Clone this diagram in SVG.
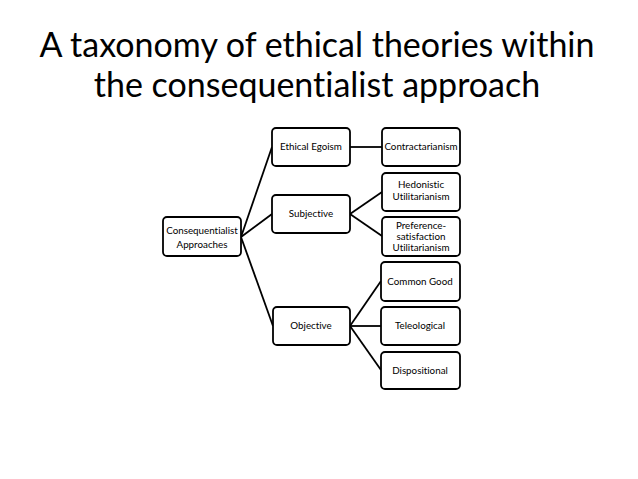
<svg xmlns="http://www.w3.org/2000/svg" width="638" height="479" viewBox="0 0 638 479">
<style>
.t{font-family:Lato,"Open Sans","Liberation Sans",sans-serif;fill:#000;font-variant-ligatures:none}
.title{font-size:34px;text-anchor:middle}
.n rect{fill:#fff;stroke:#000;stroke-width:1.8}
.n text{font-family:Lato,"Open Sans","Liberation Sans",sans-serif;font-size:9.8px;text-anchor:middle;fill:#000;font-variant-ligatures:none}
#connectors line{stroke:#000;stroke-width:1.8}
</style>
<rect width="638" height="479" fill="#fff"/>
<text class="t title" x="317" y="57">A taxonomy of ethical theories within</text>
<text class="t title" x="317" y="97">the consequentialist approach</text>
<g id="connectors">
<line x1="241" y1="237" x2="272" y2="147"/>
<line x1="241" y1="237" x2="272" y2="214"/>
<line x1="241" y1="237" x2="273" y2="326"/>
<line x1="350" y1="147" x2="382" y2="147"/>
<line x1="350" y1="214" x2="382" y2="192"/>
<line x1="350" y1="214" x2="382" y2="236"/>
<line x1="350" y1="326" x2="381" y2="281"/>
<line x1="350" y1="326" x2="381" y2="326"/>
<line x1="350" y1="326" x2="381" y2="370"/>
</g>
<g id="consequentialist" class="n"><rect x="163" y="217" width="78" height="39" rx="4"/><text x="202" y="234">Consequentialist</text><text x="202" y="248">Approaches</text></g>
<g id="egoism" class="n"><rect x="272" y="128" width="78" height="38" rx="4"/><text x="311" y="150">Ethical Egoism</text></g>
<g id="contract" class="n"><rect x="382" y="128" width="78" height="38" rx="4"/><text x="421" y="150">Contractarianism</text></g>
<g id="subjective" class="n"><rect x="272" y="195" width="78" height="38" rx="4"/><text x="311" y="217">Subjective</text></g>
<g id="hedonistic" class="n"><rect x="382" y="173" width="78" height="38" rx="4"/><text x="421" y="188">Hedonistic</text><text x="421" y="200">Utilitarianism</text></g>
<g id="preference" class="n"><rect x="382" y="217" width="78" height="39" rx="4"/><text x="421" y="229">Preference-</text><text x="421" y="240">satisfaction</text><text x="421" y="251">Utilitarianism</text></g>
<g id="objective" class="n"><rect x="273" y="307" width="77" height="38" rx="4"/><text x="311" y="329">Objective</text></g>
<g id="commongood" class="n"><rect x="381" y="262" width="79" height="39" rx="4"/><text x="420" y="285">Common Good</text></g>
<g id="teleological" class="n"><rect x="381" y="307" width="79" height="38" rx="4"/><text x="420" y="329">Teleological</text></g>
<g id="dispositional" class="n"><rect x="381" y="352" width="79" height="37" rx="4"/><text x="420" y="374">Dispositional</text></g>
</svg>
